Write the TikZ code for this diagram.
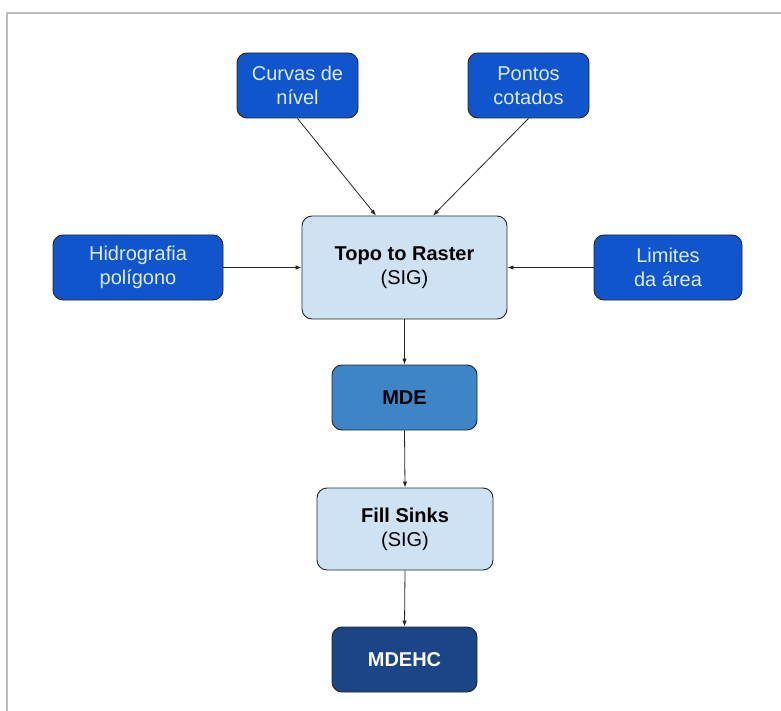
\documentclass[tikz,border=0pt]{standalone}
\usepackage{fontspec}
\setmainfont{Liberation Sans}
\usepackage{tikz}
\usetikzlibrary{arrows.meta,positioning}

\definecolor{inblue}{HTML}{1155CC}
\definecolor{proclight}{HTML}{CFE2F3}
\definecolor{mdeblue}{HTML}{3D85C6}
\definecolor{mdehcblue}{HTML}{1C4587}
\definecolor{intext}{HTML}{DCEBFA}
\definecolor{frame}{HTML}{BDBDBD}

\tikzset{
  box/.style={draw=black!85, line width=0.9pt, rounded corners=10pt,
    align=center, inner sep=0pt,
    font=\fontsize{20}{24}\selectfont},
  inbox/.style={box, fill=inblue, text=intext, minimum height=65pt},
  procbox/.style={box, fill=proclight, text=black},
  flow/.style={-{Latex[length=6pt,width=4.5pt]}, line width=0.8pt, black!85}
}

\begin{document}
\begin{tikzpicture}[x=1pt,y=-1pt]
  \useasboundingbox (0,0) rectangle (781,711);
  % Frame
  \draw[frame, line width=2pt] (781,13) -- (7,13) -- (7,711);

  % Input data
  \node[inbox, minimum width=121pt] (curvas) at (297.5,85.5) {Curvas de\\nível};
  \node[inbox, minimum width=121pt] (pontos) at (528.5,85.5) {Pontos\\cotados};
  \node[inbox, minimum width=170pt] (hidro) at (138,267.5) {Hidrografia\\polígono};
  \node[inbox, minimum width=148pt] (limites) at (668,267.5) {Limites\\da área};

  % Processing
  \node[procbox, minimum width=205pt, minimum height=103pt] (topo) at (404.5,267.5)
    {\textbf{Topo to Raster}\\(SIG)};
  \node[box, fill=mdeblue, text=black, minimum width=145pt, minimum height=65pt]
    (mde) at (404.5,397.5) {\textbf{MDE}};
  \node[procbox, minimum width=176pt, minimum height=82pt] (fill) at (405,529)
    {\textbf{Fill Sinks}\\(SIG)};
  \node[box, fill=mdehcblue, text=white, minimum width=145pt, minimum height=65pt]
    (mdehc) at (404.5,659.5) {\textbf{MDEHC}};

  % Arrows
  \draw[flow] (curvas.south) -- ([xshift=-28.5pt]topo.north);
  \draw[flow] (pontos.south) -- ([xshift=28.5pt]topo.north);
  \draw[flow] (hidro.east) -- (topo.west);
  \draw[flow] (limites.west) -- (topo.east);
  \draw[flow] (topo.south) -- (mde.north);
  \draw[flow] (mde.south) -- (fill.north);
  \draw[flow] (fill.south) -- (mdehc.north);
\end{tikzpicture}
\end{document}
